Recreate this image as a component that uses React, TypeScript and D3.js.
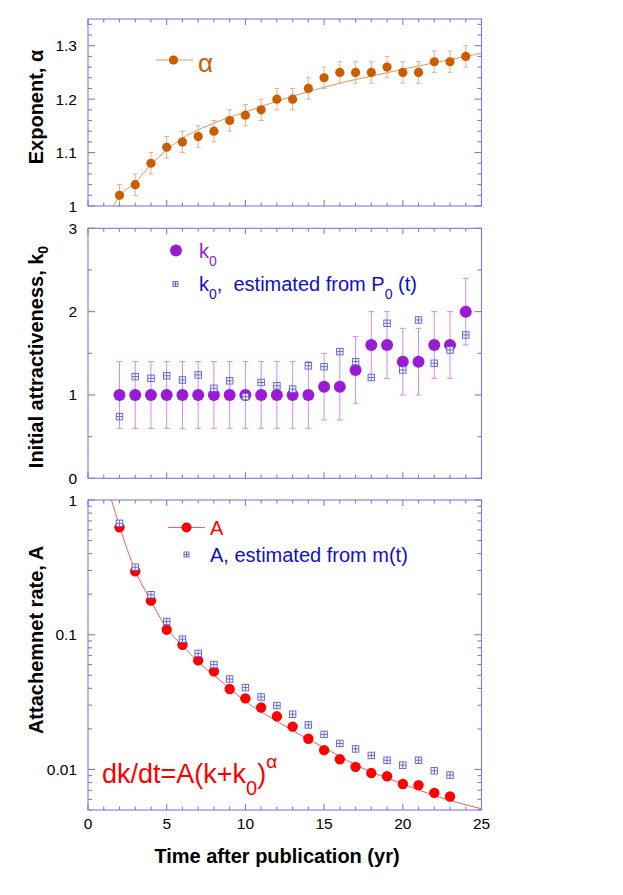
import * as React from 'react';
import * as d3 from 'd3';

// time after publication (yr)
const alphaYears = [2, 3, 4, 5, 6, 7, 8, 9, 10, 11, 12, 13, 14, 15, 16, 17, 18, 19, 20, 21, 22, 23, 24];
const alphaVals = [1.02, 1.04, 1.08, 1.11, 1.12, 1.13, 1.14, 1.16, 1.17, 1.18, 1.2, 1.2, 1.22, 1.24, 1.25, 1.25, 1.25, 1.26, 1.25, 1.25, 1.27, 1.27, 1.28];
const alphaErr = [0.02, 0.02, 0.02, 0.02, 0.02, 0.02, 0.02, 0.02, 0.02, 0.02, 0.02, 0.02, 0.02, 0.02, 0.02, 0.02, 0.02, 0.02, 0.02, 0.02, 0.02, 0.02, 0.02];
// fitted curve
const alphaFit: [number, number][] = [
  [1.6, 1.0], [2, 1.018], [3, 1.044], [4, 1.077], [5, 1.105], [6, 1.127], [8, 1.155],
  [10, 1.176], [12, 1.196], [14, 1.214], [16, 1.23], [18, 1.243], [20, 1.256], [22, 1.268], [25, 1.286]
];

const k0Years = alphaYears;
const k0Vals = [1, 1, 1, 1, 1, 1, 1, 1, 1, 1, 1, 1, 1, 1.1, 1.1, 1.3, 1.6, 1.6, 1.4, 1.4, 1.6, 1.6, 2.0];
const k0Err = [0.4, 0.4, 0.4, 0.4, 0.4, 0.4, 0.4, 0.4, 0.4, 0.4, 0.4, 0.4, 0.4, 0.4, 0.4, 0.4, 0.4, 0.4, 0.4, 0.4, 0.4, 0.4, 0.4];
const k0Est = [0.74, 1.22, 1.2, 1.23, 1.18, 1.24, 1.08, 1.17, 0.98, 1.15, 1.11, 1.07, 1.35, 1.34, 1.52, 1.4, 1.21, 1.86, 1.3, 1.9, 1.38, 1.54, 1.72];

const aYears = [2, 3, 4, 5, 6, 7, 8, 9, 10, 11, 12, 13, 14, 15, 16, 17, 18, 19, 20, 21, 22, 23];
const aVals = [0.627, 0.296, 0.179, 0.109, 0.0843, 0.0645, 0.0535, 0.0395, 0.0337, 0.0288, 0.0248, 0.0208, 0.0169, 0.0139, 0.0119, 0.01045, 0.0094, 0.0089, 0.0078, 0.00765, 0.0067, 0.0063];
const aEst = [0.671, 0.317, 0.198, 0.1255, 0.0927, 0.0727, 0.06, 0.0469, 0.0405, 0.0345, 0.0298, 0.0257, 0.0214, 0.0182, 0.0156, 0.0142, 0.0127, 0.0117, 0.01076, 0.0117, 0.00977, 0.00908];
const aFit: [number, number][] = [
  [1.49, 1.0], [2, 0.64], [3, 0.3], [4, 0.178], [5, 0.112], [6, 0.083], [7, 0.063], [8, 0.05],
  [9, 0.04], [10, 0.032], [12, 0.0228], [14, 0.0167], [15, 0.0145], [17, 0.0108], [20, 0.0078], [22, 0.0064], [25, 0.0051]
];

const xTickLabels = [0, 5, 10, 15, 20, 25];
const alphaTickLabels = [1, 1.1, 1.2, 1.3];
const k0TickLabels = [0, 1, 2, 3];
const aTickLabels = [0.01, 0.1, 1];

const FONT = 'Liberation Sans, Arial, Helvetica, sans-serif';
const FRAME = '#7a7ae6';
const ORANGE = '#cc5c00';
const PURPLE = '#9a1ad6';
const BLUE_TXT = '#1010cc';
const SQ = '#5a5ae0';

const L = 88;
const R = 481.5;
const x = d3.scaleLinear().domain([0, 25]).range([L, R]);

type Tick = { v: number; major: boolean };

function Frame({ y, yTicks, top, bottom }: { y: (v: number) => number; yTicks: Tick[]; top: number; bottom: number }) {
  const xt: Tick[] = d3.range(0, 26).map((v) => ({ v, major: v % 5 === 0 }));
  return (
    <g stroke={FRAME} strokeWidth={1.1} fill="none">
      <rect x={L} y={top} width={R - L} height={bottom - top} />
      {xt.map((t) => (
        <g key={'x' + t.v}>
          <line x1={x(t.v)} x2={x(t.v)} y1={bottom} y2={bottom - (t.major ? 6 : 3.5)} />
          <line x1={x(t.v)} x2={x(t.v)} y1={top} y2={top + (t.major ? 6 : 3.5)} />
        </g>
      ))}
      {yTicks.map((t, i) => (
        <g key={'y' + i}>
          <line x1={L} x2={L + (t.major ? 7 : 4)} y1={y(t.v)} y2={y(t.v)} />
          <line x1={R} x2={R - (t.major ? 7 : 4)} y1={y(t.v)} y2={y(t.v)} />
        </g>
      ))}
    </g>
  );
}

function Square({ cx, cy, s }: { cx: number; cy: number; s: number }) {
  const h = s / 2;
  return (
    <g stroke={SQ} strokeWidth={0.9}>
      <rect x={cx - h} y={cy - h} width={s} height={s} fill="white" />
      <line x1={cx - h} x2={cx + h} y1={cy} y2={cy} />
      <line x1={cx} x2={cx} y1={cy - h} y2={cy + h} />
    </g>
  );
}

export default function App() {
  // top panel
  const yA = d3.scaleLinear().domain([1, 1.35]).range([206, 19]);
  const alphaTicks: Tick[] = d3.range(0, 18).map((i) => ({ v: 1 + i * 0.02, major: i % 5 === 0 }));
  // middle panel
  const yK = d3.scaleLinear().domain([0, 3]).range([478.3, 228.3]);
  const k0Ticks: Tick[] = d3.range(0, 7).map((i) => ({ v: i * 0.5, major: i % 2 === 0 }));
  // bottom panel
  const yR = d3.scaleLog().domain([0.005, 1]).range([810, 500]);
  const aTicks: Tick[] = yR.ticks().map((v) => ({ v, major: aTickLabels.some((m) => Math.abs(m - v) < 1e-9) }));

  const alphaLine = d3.line<[number, number]>().x((d) => x(d[0])).y((d) => yA(d[1])).curve(d3.curveMonotoneX);
  const aLine = d3.line<[number, number]>().x((d) => x(d[0])).y((d) => yR(d[1])).curve(d3.curveMonotoneX);

  const tickText = { fontFamily: FONT, fontSize: 15.5, fill: '#000' } as const;
  const titleText = { fontFamily: FONT, fontSize: 20, fontWeight: 'bold', fill: '#000' } as const;
  const legendText = { fontFamily: FONT, fontSize: 20, style: { whiteSpace: 'pre' as const } };

  return (
    <svg width={623} height={895} style={{ position: 'absolute', left: 0, top: 0, background: '#fff' }}>
      <defs>
        <clipPath id="clipTop"><rect x={L} y={19} width={R - L} height={187} /></clipPath>
        <clipPath id="clipBot"><rect x={L} y={500} width={R - L} height={310} /></clipPath>
      </defs>

      {/* ---------- top: exponent alpha ---------- */}
      <path d={alphaLine(alphaFit) || ''} fill="none" stroke="#e0955a" strokeWidth={1} clipPath="url(#clipTop)" />
      <g stroke="#eab08a" strokeWidth={1}>
        {alphaYears.map((t, i) => (
          <g key={t}>
            <line x1={x(t)} x2={x(t)} y1={yA(alphaVals[i] - alphaErr[i])} y2={yA(alphaVals[i] + alphaErr[i])} />
            <line x1={x(t) - 2.5} x2={x(t) + 2.5} y1={yA(alphaVals[i] - alphaErr[i])} y2={yA(alphaVals[i] - alphaErr[i])} />
            <line x1={x(t) - 2.5} x2={x(t) + 2.5} y1={yA(alphaVals[i] + alphaErr[i])} y2={yA(alphaVals[i] + alphaErr[i])} />
          </g>
        ))}
      </g>
      {alphaYears.map((t, i) => (
        <circle key={t} cx={x(t)} cy={yA(alphaVals[i])} r={4.6} fill={ORANGE} />
      ))}
      <Frame y={yA} yTicks={alphaTicks} top={19} bottom={206} />
      {alphaTickLabels.map((v) => (
        <text key={v} x={77} y={yA(v) + 5.5} textAnchor="end" {...tickText}>{v === 1 ? '1' : v.toFixed(1)}</text>
      ))}
      <text transform="translate(42.5,107) rotate(-90)" textAnchor="middle" {...titleText}>Exponent, α</text>
      <line x1={156} x2={193} y1={60} y2={60} stroke="#e0955a" strokeWidth={1} />
      <circle cx={173.5} cy={60} r={4.6} fill={ORANGE} />
      <text x={198} y={72} fontFamily={FONT} fontSize={26} fill={ORANGE}>α</text>

      {/* ---------- middle: initial attractiveness ---------- */}
      <g stroke="#d88ae8" strokeWidth={1}>
        {k0Years.map((t, i) => (
          <g key={t}>
            <line x1={x(t)} x2={x(t)} y1={yK(k0Vals[i] - k0Err[i])} y2={yK(k0Vals[i] + k0Err[i])} />
            <line x1={x(t) - 3} x2={x(t) + 3} y1={yK(k0Vals[i] - k0Err[i])} y2={yK(k0Vals[i] - k0Err[i])} />
            <line x1={x(t) - 3} x2={x(t) + 3} y1={yK(k0Vals[i] + k0Err[i])} y2={yK(k0Vals[i] + k0Err[i])} />
          </g>
        ))}
      </g>
      {k0Years.map((t, i) => (
        <circle key={t} cx={x(t)} cy={yK(k0Vals[i])} r={6} fill={PURPLE} />
      ))}
      {k0Years.map((t, i) => (
        <Square key={t} cx={x(t)} cy={yK(k0Est[i])} s={6.5} />
      ))}
      <Frame y={yK} yTicks={k0Ticks} top={228.3} bottom={478.3} />
      {k0TickLabels.map((v) => (
        <text key={v} x={77} y={yK(v) + 5.5} textAnchor="end" {...tickText}>{v}</text>
      ))}
      <text transform="translate(42.5,357) rotate(-90)" textAnchor="middle" {...titleText}>
        Initial attractiveness, k<tspan dy={5} fontSize={14}>0</tspan>
      </text>
      <circle cx={176} cy={250.5} r={6} fill={PURPLE} />
      <text x={199} y={258} {...legendText} fill={PURPLE}>
        k<tspan dy={8} fontSize={14}>0</tspan>
      </text>
      <Square cx={175.5} cy={284} s={5} />
      <text x={199} y={291} {...legendText} fill={BLUE_TXT}>
        k<tspan dy={8} fontSize={14}>0</tspan>
        <tspan dy={-8}>,  estimated from P</tspan>
        <tspan dy={8} fontSize={14}>0</tspan>
        <tspan dy={-8}> (t)</tspan>
      </text>

      {/* ---------- bottom: attachment rate ---------- */}
      <path d={aLine(aFit) || ''} fill="none" stroke="#ff5a5a" strokeWidth={1} clipPath="url(#clipBot)" />
      {aYears.map((t, i) => (
        <circle key={t} cx={x(t)} cy={yR(aVals[i])} r={5.2} fill="#ff0000" />
      ))}
      {aYears.map((t, i) => (
        <Square key={t} cx={x(t)} cy={yR(aEst[i])} s={6.5} />
      ))}
      <Frame y={yR} yTicks={aTicks} top={500} bottom={810} />
      {aTickLabels.map((v) => (
        <text key={v} x={77} y={yR(v) + 5.5} textAnchor="end" {...tickText}>{String(v)}</text>
      ))}
      {xTickLabels.map((v) => (
        <text key={v} x={x(v)} y={829} textAnchor="middle" {...tickText}>{v}</text>
      ))}
      <text transform="translate(42.5,640) rotate(-90)" textAnchor="middle" {...titleText}>Attachemnet rate, A</text>
      <text x={277} y={863} textAnchor="middle" {...titleText}>Time after publication (yr)</text>
      <line x1={168} x2={205} y1={527.5} y2={527.5} stroke="#ff5a5a" strokeWidth={1} />
      <circle cx={186.5} cy={527.5} r={5} fill="#ff0000" />
      <text x={210} y={535} {...legendText} fill="#ff0000">A</text>
      <Square cx={186.5} cy={554.5} s={5} />
      <text x={210} y={562} {...legendText} fill={BLUE_TXT}>A, estimated from m(t)</text>
      <text x={102} y={783} fontFamily={FONT} fontSize={27} fill="#ff0000">
        dk/dt=A(k+k<tspan dy={12} fontSize={20}>0</tspan>
        <tspan dy={-12}>)</tspan>
        <tspan dy={-15} fontSize={19}>α</tspan>
      </text>
    </svg>
  );
}
